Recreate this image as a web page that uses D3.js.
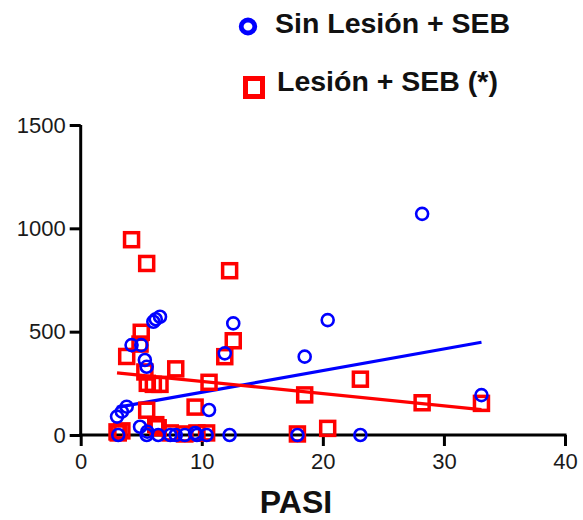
<!DOCTYPE html>
<html><head><meta charset="utf-8">
<script src="https://cdn.jsdelivr.net/npm/d3@7"></script>
<style>body{margin:0;background:#fff}svg{display:block}</style>
</head><body>
<svg id="c" width="583" height="520"></svg>
<script>
// PASI per patient (paired)
const pasi   = [3.0, 3.1, 3.4, 3.8, 4.2, 4.9, 5.0, 5.3, 5.45, 5.5, 5.45, 6.0, 6.2, 6.55, 6.4, 7.4, 7.85, 8.6, 9.45, 9.6, 10.4, 10.6, 11.9, 12.3, 12.6, 17.9, 18.5, 20.4, 23.1, 28.2, 33.1];
const sinLesion = [89, 0, 113, 137, 435, 40, 435, 363, 330, 16, 0, 548, 560, 572, 0, 0, 0, 0, 10, 0, 0, 121, 395, 0, 540, 0, 379, 556, 0, 1070, 193];
const lesion    = [15, 10, 20, 380, 945, 440, 497, 305, 830, 250, 120, 245, 50, 245, 35, 10, 320, 5, 135, 10, 10, 255, 379, 795, 456, 5, 194, 32, 270, 156, 153];
// fitted regression lines (intercept, slope)
const fitSin = {intercept: 102, slope: 10.47};
const fitLes = {intercept: 318, slope: -5.9};
const xTicks = [0, 10, 20, 30, 40];
const yTicks = [0, 500, 1000, 1500];
const seriesNames = ["Sin Lesión + SEB", "Lesión + SEB (*)"];

const svg = d3.select("#c");
const x = d3.scaleLinear().domain([0, 40]).range([80.7, 565]);
const y = d3.scaleLinear().domain([0, 1500]).range([435, 125]);
const font = "'Liberation Sans', Arial, sans-serif";

// axes
const gx = svg.append("g").attr("transform", "translate(0,435)")
  .call(d3.axisBottom(x).tickValues(xTicks).tickFormat(d3.format("d")).tickSize(11).tickPadding(7).tickSizeOuter(0));
const gy = svg.append("g").attr("transform", "translate(80.7,0)")
  .call(d3.axisLeft(y).tickValues(yTicks).tickFormat(d3.format("d")).tickSize(11).tickPadding(4).tickSizeOuter(0));
[gx, gy].forEach(g => {
  g.select(".domain").attr("stroke", "#000").attr("stroke-width", 3);
  g.selectAll(".tick line").attr("stroke", "#000").attr("stroke-width", 3);
  g.selectAll(".tick text").attr("fill", "#1a1a1a").style("font-family", font).style("font-size", "22px");
});
gx.select(".domain").attr("d", `M${x(0)-1.5},0H${x(40)+1.5}`);
gy.select(".domain").attr("d", `M0,${y(1500)}V${y(0)+1.5}`);

// regression lines
const xr = d3.extent(pasi);
const line = d3.line().x(d => x(d[0])).y(d => y(d[1]));
svg.append("path").attr("d", line(xr.map(v => [v, fitSin.intercept + fitSin.slope * v])))
  .attr("stroke", "#0000ff").attr("stroke-width", 3.2).attr("fill", "none");
svg.append("path").attr("d", line(xr.map(v => [v, fitLes.intercept + fitLes.slope * v])))
  .attr("stroke", "#ff0000").attr("stroke-width", 3.2).attr("fill", "none");

// points
const sq = 14;
svg.append("g").selectAll("rect").data(pasi.map((p, i) => [p, lesion[i]])).join("rect")
  .attr("x", d => x(d[0]) - sq / 2).attr("y", d => y(d[1]) - sq / 2)
  .attr("width", sq).attr("height", sq)
  .attr("fill", "none").attr("stroke", "#ff0000").attr("stroke-width", 3.5);
svg.append("g").selectAll("circle").data(pasi.map((p, i) => [p, sinLesion[i]])).join("circle")
  .attr("cx", d => x(d[0])).attr("cy", d => y(d[1])).attr("r", 6)
  .attr("fill", "none").attr("stroke", "#0000ff").attr("stroke-width", 2.6);

// legend
svg.append("ellipse").attr("cx", 248).attr("cy", 26.5).attr("rx", 6.8).attr("ry", 6.5)
  .attr("fill", "none").attr("stroke", "#0000ff").attr("stroke-width", 4.8);
svg.append("rect").attr("x", 245.5).attr("y", 78.5).attr("width", 17).attr("height", 18)
  .attr("fill", "none").attr("stroke", "#ff0000").attr("stroke-width", 5);
svg.append("text").attr("x", 275).attr("y", 33).text(seriesNames[0])
  .style("font-family", font).style("font-weight", "bold").style("font-size", "28.5px").attr("fill", "#111");
svg.append("text").attr("x", 277).attr("y", 91).text(seriesNames[1])
  .style("font-family", font).style("font-weight", "bold").style("font-size", "28.5px").attr("fill", "#111");

// x title
svg.append("text").attr("x", 296).attr("y", 513).attr("text-anchor", "middle").text("PASI")
  .style("font-family", font).style("font-weight", "bold").style("font-size", "32px").attr("fill", "#111");
</script>
</body></html>
